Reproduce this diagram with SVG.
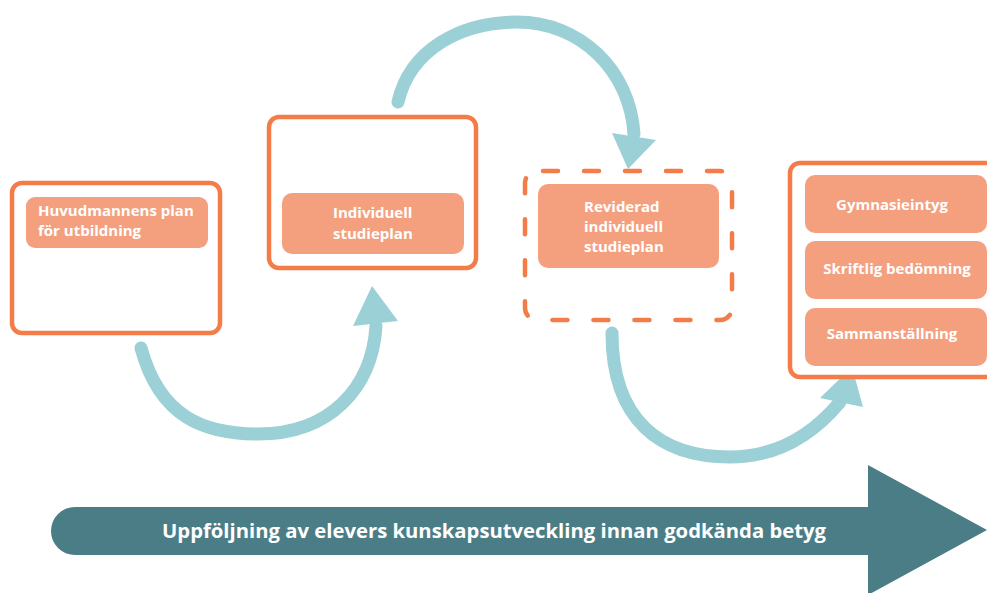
<svg xmlns="http://www.w3.org/2000/svg" width="987" height="593" viewBox="0 0 987 593">
<defs>
<style>
.outer{fill:#fff;stroke:#f47c48;stroke-width:4.5}
.dashed{fill:#fff;stroke:#f47c48;stroke-width:4.5;stroke-dasharray:15 26;stroke-linecap:round}
.inner{fill:#f4a07f}
.lbl{font-family:"Open Sans","Liberation Sans",sans-serif;font-weight:700;font-size:15px;fill:#fff}
.arc{fill:none;stroke:#9bd0d6;stroke-width:13;stroke-linecap:round}
.head{fill:#9bd0d6}
.big{font-family:"Open Sans","Liberation Sans",sans-serif;font-weight:700;font-size:19.5px;fill:#fff}
</style>
</defs>
<rect width="987" height="593" fill="#fff"/>
<g id="timeline">
<path d="M75,507 H868 V465 L987,530 L868,595 V555 H75 A24,24 0 0 1 75,507 Z" fill="#4b7d87"/>
<text class="big" x="162" y="538" textLength="664" lengthAdjust="spacingAndGlyphs">Uppföljning av elevers kunskapsutveckling innan godkända betyg</text>
</g>
<g id="connectors">
<path class="arc" d="M141,348 C160,418 205,434 258,434 C330,434 372,388 376,326"/>
<polygon class="head" points="353,326 398,321 372,286"/>
<path class="arc" d="M398,102 C410,50 460,22 517,22 C580,22 630,70 634,134"/>
<polygon class="head" points="612,133 656,140 628,169"/>
<path class="arc" d="M612,333 C612,420 660,457 730,457 C780,457 815,432 840,402"/>
<polygon class="head" points="820,398 863,407 852,367"/>
</g>
<g id="node1">
<rect class="outer" x="12" y="183" width="208" height="150" rx="10"/>
<rect class="inner" x="26" y="197" width="182" height="51" rx="9"/>
<text class="lbl" x="38" y="216">Huvudmannens plan</text>
<text class="lbl" x="38" y="236">för utbildning</text>
</g>
<g id="node2">
<rect class="outer" x="269" y="117" width="207" height="151" rx="10"/>
<rect class="inner" x="282" y="193" width="182" height="61" rx="10"/>
<text class="lbl" x="333" y="218">Individuell</text>
<text class="lbl" x="333" y="239">studieplan</text>
</g>
<g id="node3">
<rect class="dashed" x="525" y="171" width="207" height="149" rx="12" stroke-dashoffset="-6"/>
<rect class="inner" x="538" y="184" width="181" height="84" rx="10"/>
<text class="lbl" x="584" y="212">Reviderad</text>
<text class="lbl" x="584" y="232">individuell</text>
<text class="lbl" x="584" y="252">studieplan</text>
</g>
<g id="node4">
<rect class="outer" x="790" y="163" width="220" height="214" rx="10"/>
<rect class="inner" x="805" y="175" width="182" height="58" rx="10"/>
<text class="lbl" x="892" y="210" text-anchor="middle">Gymnasieintyg</text>
<rect class="inner" x="805" y="241" width="182" height="58" rx="10"/>
<text class="lbl" x="897" y="274" text-anchor="middle">Skriftlig bedömning</text>
<rect class="inner" x="805" y="308" width="182" height="58" rx="10"/>
<text class="lbl" x="892" y="339" text-anchor="middle">Sammanställning</text>
</g>
</svg>
